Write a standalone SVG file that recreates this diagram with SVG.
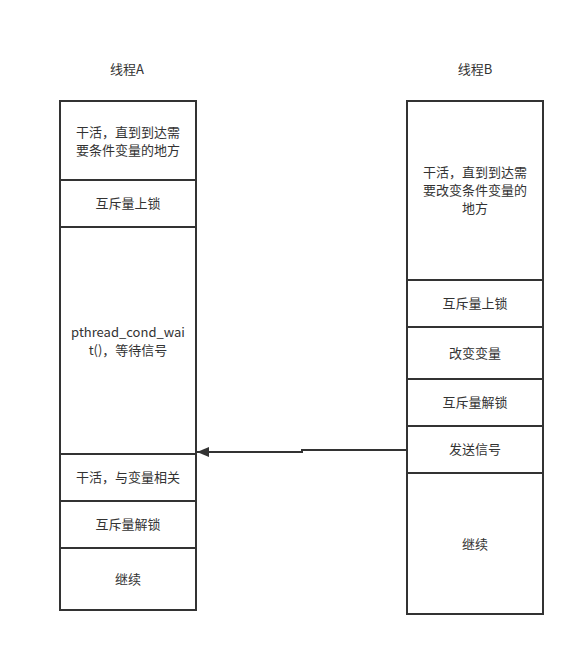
<svg xmlns="http://www.w3.org/2000/svg" width="587" height="647" viewBox="0 0 587 647">
<style>
.box{fill:#fff;stroke:#333;stroke-width:2}
.t{font-family:"Noto Sans CJK SC","Liberation Sans",sans-serif;font-size:13px;fill:#333;text-anchor:middle}
.c{fill:none;stroke:#333;stroke-width:2}
</style>
<defs>
<marker id="ah" viewBox="0 0 12 10" refX="12" refY="5" markerWidth="12" markerHeight="10" orient="auto" markerUnits="userSpaceOnUse">
<path d="M0,0 L12,5 L0,10 Z" fill="#333"/>
</marker>
</defs>
<rect width="587" height="647" fill="#fff"/>
<text class="t" x="127" y="74">线程A</text>
<text class="t" x="475" y="74">线程B</text>
<g id="a1"><rect class="box" x="60" y="101" width="136" height="79"/><text class="t" x="128" y="137">干活，直到到达需</text><text class="t" x="128" y="155">要条件变量的地方</text></g>
<g id="a2"><rect class="box" x="60" y="180" width="136" height="47"/><text class="t" x="128" y="208">互斥量上锁</text></g>
<g id="a3"><rect class="box" x="60" y="227" width="136" height="227"/><text class="t" x="128" y="337">pthread_cond_wai</text><text class="t" x="128" y="355">t()，等待信号</text></g>
<g id="a4"><rect class="box" x="60" y="454" width="136" height="47"/><text class="t" x="128" y="482">干活，与变量相关</text></g>
<g id="a5"><rect class="box" x="60" y="501" width="136" height="47"/><text class="t" x="128" y="529">互斥量解锁</text></g>
<g id="a6"><rect class="box" x="60" y="548" width="136" height="62"/><text class="t" x="128" y="584">继续</text></g>
<g id="b1"><rect class="box" x="407" y="101" width="136" height="179"/><text class="t" x="475" y="177">干活，直到到达需</text><text class="t" x="475" y="195">要改变条件变量的</text><text class="t" x="475" y="213">地方</text></g>
<g id="b2"><rect class="box" x="407" y="280" width="136" height="47"/><text class="t" x="475" y="308">互斥量上锁</text></g>
<g id="b3"><rect class="box" x="407" y="327" width="136" height="52"/><text class="t" x="475" y="358">改变变量</text></g>
<g id="b4"><rect class="box" x="407" y="379" width="136" height="47"/><text class="t" x="475" y="407">互斥量解锁</text></g>
<g id="b5"><rect class="box" x="407" y="426" width="136" height="47"/><text class="t" x="475" y="454">发送信号</text></g>
<g id="b6"><rect class="box" x="407" y="473" width="136" height="141"/><text class="t" x="475" y="549">继续</text></g>
<g id="connectors"><path class="c" d="M407,450 L302,450 L302,452 L197,452" marker-end="url(#ah)"/></g>
</svg>
